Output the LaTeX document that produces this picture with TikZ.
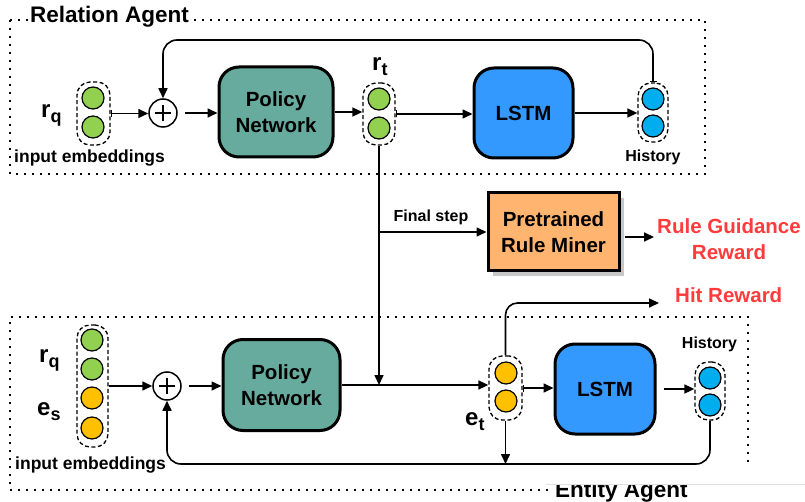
\documentclass[tikz,border=0pt]{standalone}
\usepackage{fontspec}
\setmainfont{Liberation Sans}
\usetikzlibrary{arrows.meta,shadows,calc}
\definecolor{cgreen}{HTML}{92D050}
\definecolor{corange}{HTML}{FFC000}
\definecolor{cteal}{HTML}{67AB9F}
\definecolor{clstm}{HTML}{3399FF}
\definecolor{chist}{HTML}{00AEEF}
\definecolor{cprm}{HTML}{FFB570}
\definecolor{cred}{HTML}{FF3B3B}
\newcommand{\fsz}[1]{\fontsize{#1}{#1}\selectfont}
\begin{document}
\begin{tikzpicture}[x=1pt,y=-1pt,
  arr/.style={line width=1.6pt,-{Triangle[length=10pt,width=9pt]}},
  barr/.style={line width=1.6pt,{Bar[width=7pt]}-{Triangle[length=10pt,width=9pt]}},
  capsule/.style={draw,dash pattern=on 4pt off 2.5pt,line width=1.3pt,rounded corners=13pt,inner sep=0pt},
  ball/.style={circle,draw,line width=1.2pt,minimum size=22pt,inner sep=0pt},
  netbox/.style={draw,line width=3pt,rounded corners=20pt,inner sep=0pt,align=center,font=\bfseries\fsz{20.5}},
  agentbox/.style={line width=1.6pt,dash pattern=on 1.6pt off 6.4pt},
  lbl/.style={inner sep=0pt,font=\bfseries}
]
\useasboundingbox (0,0) rectangle (805,502);

% agent frames
\draw[agentbox] (10,20) rectangle (705,174);
\draw[agentbox] (548,490) -- (10,490) -- (10,317) -- (748,317) -- (748,466);
\node[lbl,anchor=base west,fill=white,inner sep=1pt,font=\bfseries\fsz{22.5}] (relag) at (29,23) {Relation Agent};

% ---------------- Relation agent ----------------
\node[capsule,minimum width=33pt,minimum height=63pt] (emb1) at (93.5,113.5) {};
\node[ball,fill=cgreen] (e1a) at (93,98) {};
\node[ball,fill=cgreen] (e1b) at (93,127) {};
\node[lbl,anchor=base west] (rq1) at (41,118) {\fsz{24}r\raisebox{-5pt}{\fsz{18}q}};
\node[lbl,anchor=base west,font=\bfseries\fsz{17.5}] (ie1) at (14,163) {input embeddings};

\node[circle,draw,line width=1.5pt,minimum size=28pt,inner sep=0pt] (plus1) at (163,113) {};
\draw[line width=2pt] ($(plus1.center)+(-8,0)$) -- ($(plus1.center)+(8,0)$);
\draw[line width=2pt] ($(plus1.center)+(0,-8)$) -- ($(plus1.center)+(0,8)$);

\node[netbox,fill=cteal,minimum width=114pt,minimum height=90pt] (pn1) at (276,112) {Policy\\[6pt]Network};

\node[capsule,minimum width=32pt,minimum height=62pt] (rt) at (379,114) {};
\node[ball,fill=cgreen] (r1a) at (379,99) {};
\node[ball,fill=cgreen] (r1b) at (379,128) {};
\node[lbl,anchor=base west] (rtl) at (372,71) {\fsz{24}r\raisebox{-5pt}{\fsz{18}t}};

\node[netbox,fill=clstm,minimum width=99pt,minimum height=90pt] (lstm1) at (523.5,113) {LSTM};

\node[capsule,minimum width=30pt,minimum height=59pt] (hist1) at (653,112.5) {};
\node[ball,fill=chist] (h1a) at (653,99) {};
\node[ball,fill=chist] (h1b) at (653,126) {};
\node[lbl,anchor=base,font=\bfseries\fsz{16}] (hl1) at (653,162) {History};

\coordinate (top1) at (0,40);
\draw[barr] (emb1.east) -- (emb1.east -| plus1.west);
\draw[arr,shorten <=7pt] (plus1.east) -- (plus1.east -| pn1.west);
\draw[arr] (pn1.east) -- (pn1.east -| rt.west);
\draw[barr] (rt.east) -- (rt.east -| lstm1.west);
\draw[arr] (lstm1.east) -- (lstm1.east -| hist1.west);
\draw[line width=1.6pt,rounded corners=14pt,{Bar[width=7pt]}-{Triangle[length=10pt,width=9pt]}] (hist1.north) -- (hist1.north |- top1) -| (plus1.north);

% ---------------- Rule miner ----------------
\node[draw,line width=3pt,fill=cprm,minimum width=131pt,minimum height=78pt,align=center,
      font=\bfseries\fsz{20.5},drop shadow={shadow xshift=5pt,shadow yshift=-5pt,fill=black!22,opacity=1}] (prm) at (553.5,232) {Pretrained\\[6pt]Rule Miner};
\node[lbl,align=center,text=cred,font=\bfseries\fsz{20.5}] (rgr) at (729,239) {Rule Guidance\\[5pt]Reward};
\node[lbl,anchor=base west,text=cred,font=\bfseries\fsz{20.5}] (hit) at (675,303) {Hit Reward};

% ---------------- Entity agent ----------------
\node[capsule,minimum width=31pt,minimum height=122pt] (emb2) at (92.5,386) {};
\node[ball,fill=cgreen] (e2a) at (92,340) {};
\node[ball,fill=cgreen] (e2b) at (92,369) {};
\node[ball,fill=corange] (e2c) at (92,398) {};
\node[ball,fill=corange] (e2d) at (92,428) {};
\node[lbl,anchor=base west] (rq2) at (39,362) {\fsz{24}r\raisebox{-5pt}{\fsz{18}q}};
\node[lbl,anchor=base west] (es2) at (37,415) {\fsz{24}e\raisebox{-5pt}{\fsz{18}s}};
\node[lbl,anchor=base west,font=\bfseries\fsz{17.5}] (ie2) at (15,469) {input embeddings};

\node[circle,draw,line width=1.5pt,minimum size=28pt,inner sep=0pt] (plus2) at (167,386) {};
\draw[line width=2pt] ($(plus2.center)+(-8,0)$) -- ($(plus2.center)+(8,0)$);
\draw[line width=2pt] ($(plus2.center)+(0,-8)$) -- ($(plus2.center)+(0,8)$);

\node[netbox,fill=cteal,minimum width=117pt,minimum height=91pt] (pn2) at (281.5,385) {Policy\\[6pt]Network};

\node[capsule,minimum width=33pt,minimum height=64pt] (et) at (505.5,388) {};
\node[ball,fill=corange] (t2a) at (506,373) {};
\node[ball,fill=corange] (t2b) at (506,401) {};
\node[lbl,anchor=base west] (etl) at (465,425) {\fsz{24}e\raisebox{-5pt}{\fsz{18}t}};

\node[netbox,fill=clstm,minimum width=100pt,minimum height=90pt] (lstm2) at (605,389) {LSTM};

\node[capsule,minimum width=30pt,minimum height=58pt] (hist2) at (710,391) {};
\node[ball,fill=chist] (h2a) at (710,378) {};
\node[ball,fill=chist] (h2b) at (710,405) {};
\node[lbl,anchor=base,font=\bfseries\fsz{16}] (hl2) at (709.5,348) {History};

\coordinate (bot) at (0,464);
\coordinate (hitend) at (659,303);
\draw[arr] (emb2.east) -- (emb2.east -| plus2.west);
\draw[arr,shorten <=7pt] (plus2.east) -- (plus2.east -| pn2.west);
\draw[arr] (pn2.east) -- (pn2.east -| et.west);
\draw[barr] (et.east) -- (et.east -| lstm2.west);
\draw[arr,shorten <=7pt] (lstm2.east) -- (lstm2.east -| hist2.west);
\draw[arr,rounded corners=14pt] (hist2.south) -- (hist2.south |- bot) -| (plus2.south);
\draw[arr] (et.south) -- (et.south |- bot);
\draw[arr,rounded corners=12pt] (et.north) |- (hitend);

% ---------------- Inter-agent connectors ----------------
\draw[arr] (rt.south) -- (rt.south |- pn2.east);
\coordinate (fs) at (rt.south |- prm.west);
\draw[arr] (fs) -- (prm.west);
\node[lbl,anchor=base,font=\bfseries\fsz{16}] (fsl) at (431,222) {Final step};
\draw[arr] ($(prm.east)+(4,5)$) -- ($(rgr.west)+(-3,-2)$);

% partly hidden caption
\node[lbl,anchor=base west,font=\bfseries\fsz{22.5}] (entag) at (555,497) {Entity Agent};
\fill[white] (546,466) rectangle (805,484);
\draw[black!12,line width=0.6pt] (546,484) -- (805,484);
\end{tikzpicture}
\end{document}
